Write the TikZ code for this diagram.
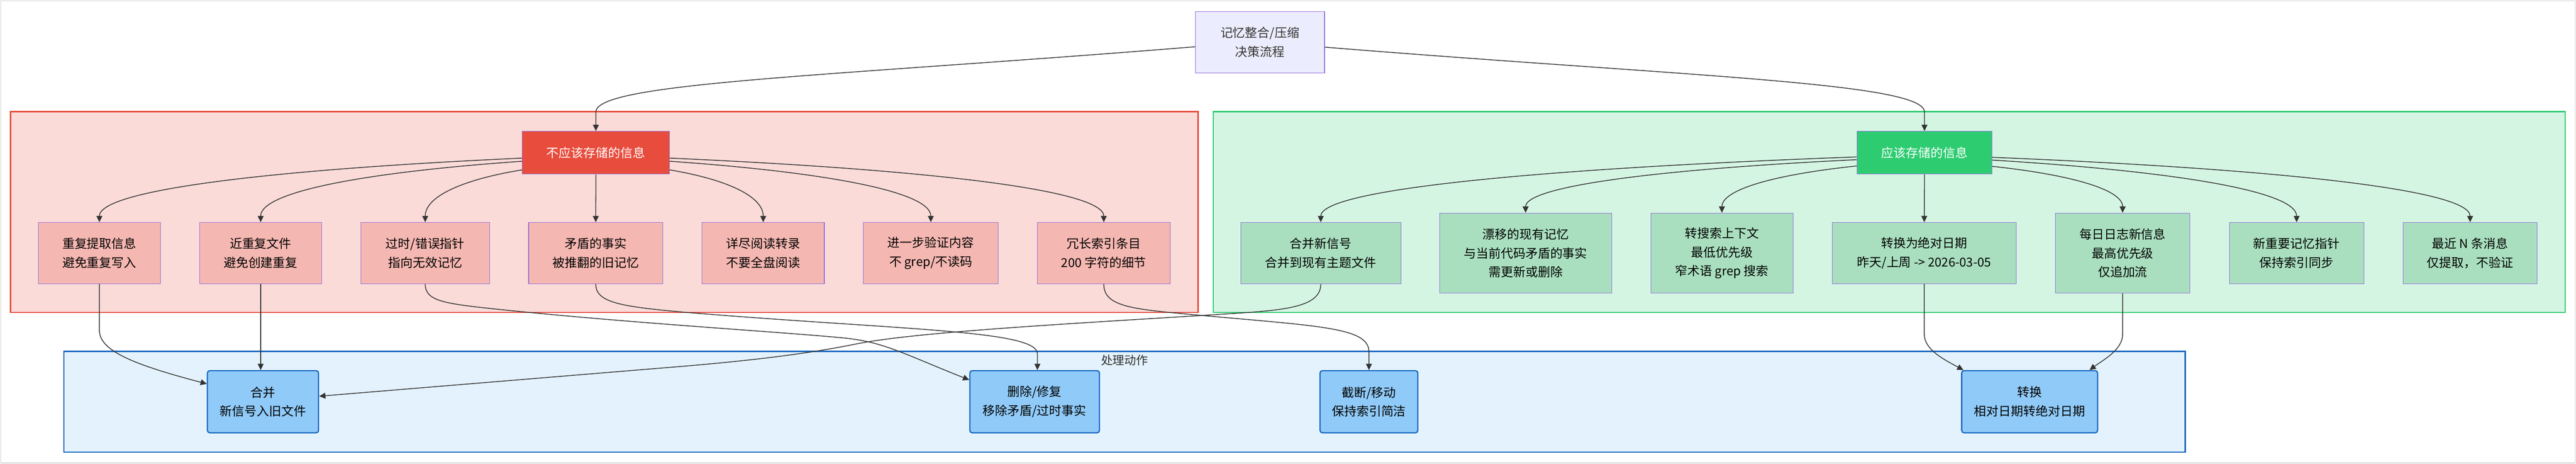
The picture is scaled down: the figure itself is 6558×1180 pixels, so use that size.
\documentclass[tikz,border=0pt]{standalone}
\usepackage{fontspec}
\setmainfont{Noto Sans CJK SC}
\usetikzlibrary{arrows.meta,calc}
\definecolor{ink}{HTML}{333333}
\definecolor{purp}{HTML}{9370DB}
\definecolor{topfill}{HTML}{ECECFF}
\definecolor{redmain}{HTML}{E74C3C}
\definecolor{redbg}{HTML}{FADBD8}
\definecolor{redbox}{HTML}{F5B7B1}
\definecolor{grnmain}{HTML}{2ECC71}
\definecolor{grnbg}{HTML}{D5F5E3}
\definecolor{grnbox}{HTML}{A9DFBF}
\definecolor{blumain}{HTML}{1565C0}
\definecolor{blubg}{HTML}{E3F2FD}
\definecolor{blubox}{HTML}{90CAF9}
\definecolor{framegray}{HTML}{D3D3D3}
\tikzset{
  txt/.style={font=\fontsize{15.7pt}{24pt}\selectfont, align=center, inner sep=0pt},
  cluster/.style={line width=1.5pt, inner sep=0pt},
  topbox/.style={txt, draw=purp, fill=topfill, line width=0.75pt, text=ink},
  redtitle/.style={txt, draw=purp, fill=redmain, line width=0.75pt, text=white, minimum height=54.5pt},
  grntitle/.style={txt, draw=purp, fill=grnmain, line width=0.75pt, text=white, minimum height=54.5pt},
  redbx/.style={txt, draw=purp, fill=redbox, line width=0.75pt, text=black, minimum height=78pt},
  grnbx/.style={txt, draw=purp, fill=grnbox, line width=0.75pt, text=black, minimum height=78pt},
  grnbxtall/.style={grnbx, minimum height=102pt},
  actbx/.style={txt, draw=blumain, fill=blubox, line width=1.5pt, rounded corners=3pt, text=black, minimum height=79pt},
  conn/.style={draw=ink, line width=1pt, -{Triangle[length=8pt,width=7.5pt]}},
}
\newcommand{\fanedge}[2]{%
  \coordinate (fanT) at ($(#2|-#1)!0.3!(#2)$);
  \draw[conn] (#1) .. controls ($(#1)!0.6!(fanT)$) and ($(#2|-#1)!0.5!(#2)$) .. (#2);}
\begin{document}
\begin{tikzpicture}[x=0.5pt,y=-0.5pt]
\useasboundingbox (0,0) rectangle (6558,1180);
\draw[framegray, line width=1pt] (2,2) rectangle (6556,1178);

% clusters
\node[cluster, draw=redmain, fill=redbg, minimum width=1511.75pt, minimum height=255.5pt] (redc) at (1538.45,539.5) {};
\node[cluster, draw=grnmain, fill=grnbg, minimum width=1720.6pt, minimum height=255.5pt] (grnc) at (4809.4,539.5) {};
\node[cluster, draw=blumain, fill=blubg, minimum width=2700.2pt, minimum height=128pt] (bluc) at (2862.8,1022) {};
\node[txt, text=ink, font=\fontsize{15pt}{20pt}\selectfont] (blulabel) at (2863,917) {处理动作};

% top node
\node[topbox, minimum width=164.5pt, minimum height=78.5pt] (top) at (3207.5,107.5) {记忆整合/压缩\\决策流程};

% titles
\node[redtitle, minimum width=187.5pt] (rt) at (1517,388.5) {不应该存储的信息};
\node[grntitle, minimum width=172pt] (gt) at (4899.3,388.5) {应该存储的信息};

% red nodes
\node[redbx, minimum width=155.5pt] (r1) at (253,644) {重复提取信息\\避免重复写入};
\node[redbx, minimum width=155pt] (r2) at (663.6,644) {近重复文件\\避免创建重复};
\node[redbx, minimum width=164pt] (r3) at (1082.5,644) {过时/错误指针\\指向无效记忆};
\node[redbx, minimum width=171pt] (r4) at (1516.7,644) {矛盾的事实\\被推翻的旧记忆};
\node[redbx, minimum width=155.5pt] (r5) at (1943,644) {详尽阅读转录\\不要全盘阅读};
\node[redbx, minimum width=172pt] (r6) at (2369.7,644) {进一步验证内容\\不 grep/不读码};
\node[redbx, minimum width=169.5pt] (r7) at (2810,644) {冗长索引条目\\200 字符的细节};

% green nodes
\node[grnbx, minimum width=204pt] (g1) at (3362.4,644) {合并新信号\\合并到现有主题文件};
\node[grnbxtall, minimum width=219pt] (g2) at (3883.8,644) {漂移的现有记忆\\与当前代码矛盾的事实\\需更新或删除};
\node[grnbxtall, minimum width=181pt] (g3) at (4383.6,644) {转搜索上下文\\最低优先级\\窄术语 grep 搜索};
\node[grnbx, minimum width=234.5pt] (g4) at (4898.7,644) {转换为绝对日期\\昨天/上周 -> 2026-03-05};
\node[grnbxtall, minimum width=171pt] (g5) at (5403.8,644) {每日日志新信息\\最高优先级\\仅追加流};
\node[grnbx, minimum width=171pt] (g6) at (5846.7,644) {新重要记忆指针\\保持索引同步};
\node[grnbx, minimum width=171pt] (g7) at (6288.4,644) {最近 N 条消息\\仅提取，不验证};

% action nodes
\node[actbx, minimum width=141.5pt] (a1) at (669.5,1022) {合并\\新信号入旧文件};
\node[actbx, minimum width=165pt] (a2) at (2634,1022) {删除/修复\\移除矛盾/过时事实};
\node[actbx, minimum width=124.5pt] (a3) at (3485,1022) {截断/移动\\保持索引简洁};
\node[actbx, minimum width=173pt] (a4) at (5167,1022) {转换\\相对日期转绝对日期};

% exit points
\coordinate (topL) at ($(top.west)+(0,11.5)$);
\coordinate (topR) at ($(top.east)+(0,12.5)$);
\coordinate (rl1) at ($(rt.north west)+(0,69)$);
\coordinate (rl2) at ($(rt.north west)+(0,77)$);
\coordinate (rl3) at ($(rt.north west)+(0,99)$);
\coordinate (rr1) at ($(rt.north east)+(0,69)$);
\coordinate (rr2) at ($(rt.north east)+(0,77)$);
\coordinate (rr3) at ($(rt.north east)+(0,99)$);
\coordinate (gl1) at ($(gt.north west)+(0,66)$);
\coordinate (gl2) at ($(gt.north west)+(0,73)$);
\coordinate (gl3) at ($(gt.north west)+(0,89)$);
\coordinate (gr1) at ($(gt.north east)+(0,67)$);
\coordinate (gr2) at ($(gt.north east)+(0,74)$);
\coordinate (gr3) at ($(gt.north east)+(0,90)$);
\coordinate (a1w) at ($(a1.north west)+(0,35)$);
\coordinate (a1e) at ($(a1.east)+(0,-14)$);
\coordinate (a2w) at ($(a2.north west)+(0,25)$);
\coordinate (a2n) at ($(a2.north)+(7,0)$);
\coordinate (a4l) at ($(a4.north west)+(6,0)$);
\coordinate (a4r) at ($(a4.north east)+(-22,0)$);

% top edges
\draw[conn] (topL) .. controls (2100,195) and (1517,210) .. (1517,285) -- (rt.north);
\draw[conn] (topR) .. controls (4300,195) and (4899.3,210) .. (4899.3,285) -- (gt.north);

% red fan
\fanedge{rl1}{r1.north}
\fanedge{rl2}{r2.north}
\fanedge{rl3}{r3.north}
\draw[conn] (rt.south) -- (r4.north);
\fanedge{rr3}{r5.north}
\fanedge{rr2}{r6.north}
\fanedge{rr1}{r7.north}

% green fan
\fanedge{gl1}{g1.north}
\fanedge{gl2}{g2.north}
\fanedge{gl3}{g3.north}
\draw[conn] (gt.south) -- (g4.north);
\fanedge{gr3}{g5.north}
\fanedge{gr2}{g6.north}
\fanedge{gr1}{g7.north}

% to actions
\draw[conn] (r1.south) -- (253,840) .. controls (253,890) and (330,925) .. (a1w);
\draw[conn] (r2.south) -- (r2.south|-a1.north);
\draw[conn] (r3.south) .. controls (1082.5,765) and (1130,772) .. (1250,785)
   .. controls (1600,822) and (2000,845) .. (2150,860)
   .. controls (2250,870) and (2300,900) .. (a2w);
\draw[conn] (r4.south) .. controls (1516.7,770) and (1580,780) .. (1750,795)
   .. controls (2300,840) and (2641,840) .. (2641,900) -- (a2n);
\draw[conn] (r7.south) .. controls (2810,775) and (2870,785) .. (3000,797)
   .. controls (3350,830) and (3485,830) .. (3485,895) -- (a3.north);
\draw[conn] (g1.south) .. controls (3362.4,785) and (3260,790) .. (3100,800)
   .. controls (2700,825) and (2330,845) .. (2180,875)
   .. controls (2080,895) and (1950,915) .. (1700,935) -- (a1e);
\draw[conn] (g4.south) -- (4898.7,850) .. controls (4898.7,890) and (4950,915) .. (a4l);
\draw[conn] (g5.south) -- (5403.8,850) .. controls (5403.8,890) and (5355,915) .. (a4r);
\end{tikzpicture}
\end{document}
